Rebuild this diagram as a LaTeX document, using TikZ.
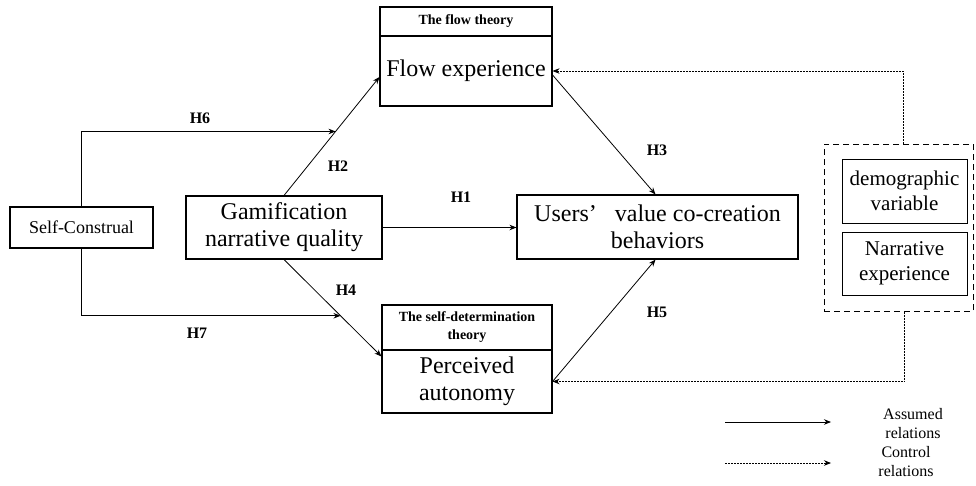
\documentclass[tikz,border=0pt]{standalone}
\usepackage{fontspec}
\setmainfont{Liberation Serif}
\usetikzlibrary{arrows.meta,calc}
\tikzset{
  box/.style={draw, line width=1.1pt, inner sep=0pt, align=center, font=\fontsize{24}{27}\selectfont},
  hdr/.style={draw, line width=1.1pt, inner sep=0pt, align=center, font=\bfseries\fontsize{14}{18}\selectfont},
  ctlbox/.style={draw, line width=1pt, inner sep=0pt, align=center, font=\fontsize{21}{25}\selectfont},
  arr/.style={line width=0.8pt, -{Stealth[length=7pt,width=5.5pt]}},
  ctl/.style={line width=0.8pt, dash pattern=on 2pt off 1pt, -{Stealth[length=7pt,width=5.5pt]}},
  hlab/.style={font=\bfseries\fontsize{16}{18}\selectfont},
  leg/.style={align=center, inner sep=1pt, font=\fontsize{16}{19}\selectfont}
}
\begin{document}
\begin{tikzpicture}[x=1pt,y=-1pt]
\useasboundingbox (0,0) rectangle (976,485);
% boxes
\node[hdr, minimum width=172pt, minimum height=29pt] (fh) at (466,21.5) {The flow theory};
\node[box, minimum width=172pt, minimum height=70pt] (fe) at (466,71) {Flow experience};
\node[hdr, minimum width=170pt, minimum height=45pt] (ph) at (467,327.5) {The self-determination\\theory};
\node[box, minimum width=170pt, minimum height=63pt] (pe) at (467,381.5) {Perceived\\autonomy};
\node[box, minimum width=196pt, minimum height=63pt] (gq) at (284,227.5) {Gamification\\narrative quality};
\node[box, minimum width=281pt, minimum height=64pt] (uv) at (657.5,227) {Users’\hspace{0.5em} value co-creation\\behaviors};
\node[box, font=\fontsize{18}{21}\selectfont, minimum width=143pt, minimum height=41pt] (sc) at (81.5,227.5) {Self-Construal};
\node[draw, line width=1pt, dash pattern=on 6pt off 4pt, minimum width=149pt, minimum height=167pt] (cb) at (898.5,227.5) {};
\node[ctlbox, minimum width=125pt, minimum height=64pt] (dv) at (904.5,191) {demographic\\variable};
\node[ctlbox, minimum width=125pt, minimum height=63pt] (ne) at (904.5,263.5) {Narrative\\experience};
% helper coordinates
\coordinate (h2e) at ($(fe.west)+(0,6)$);
\coordinate (h4e) at ($(pe.north west)+(0,7)$);
\coordinate (m6) at ($(gq.north)!0.54!(h2e)$);
\coordinate (m7) at ($(gq.south)!0.58!(h4e)$);
% assumed relations
\draw[arr] (gq.east) -- (gq.east -| uv.west);
\draw[arr] (gq.north) -- (h2e);
\draw[arr] (gq.south) -- (h4e);
\draw[arr] ($(fe.east)+(0,4)$) -- ($(uv.north)+(-2,0)$);
\draw[arr] (pe.east) -- ($(uv.south)+(-2,0)$);
\draw[arr] (sc.north) |- (m6);
\draw[arr] (sc.south) |- (m7);
% control relations
\draw[ctl] ($(cb.north)+(5,0)$) |- (fe.east);
\draw[ctl] ($(cb.south)+(6,0)$) |- (pe.east);
% labels
\node[hlab] (l6) at (200,118) {H6};
\node[hlab] (l2) at (338,166) {H2};
\node[hlab] (l1) at (461,197) {H1};
\node[hlab] (l3) at (657,150) {H3};
\node[hlab] (l4) at (346,290) {H4};
\node[hlab] (l7) at (197,333) {H7};
\node[hlab] (l5) at (657,312) {H5};
% legend
\coordinate (a1) at (725,422);
\coordinate (a2) at (831,422);
\coordinate (c1) at (725,463);
\coordinate (c2) at (831,463);
\draw[arr] (a1) -- (a2);
\draw[ctl] (c1) -- (c2);
\node[leg] (la) at (913,424) {Assumed\\relations};
\node[leg] (lc) at (906,462) {Control\\relations};
\end{tikzpicture}
\end{document}
